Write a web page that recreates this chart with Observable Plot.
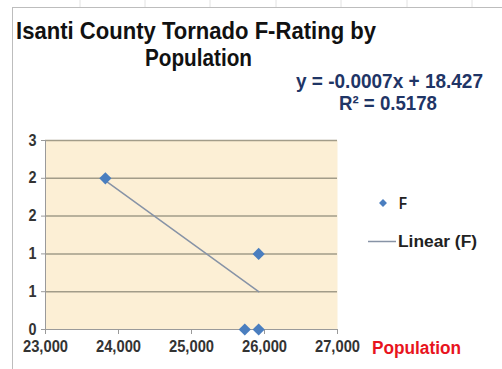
<!DOCTYPE html>
<html>
<head>
<meta charset="utf-8">
<script src="https://cdn.jsdelivr.net/npm/d3@7"></script>
<script src="https://cdn.jsdelivr.net/npm/@observablehq/plot@0.6"></script>
<style>
  html, body { margin: 0; padding: 0; background: #fff; }
  #wrap { position: relative; width: 502px; height: 369px; overflow: hidden; }
  #wrap svg { position: absolute; left: 0; top: 0; }
  .t { font-family: "Liberation Sans", Arial, sans-serif; font-weight: bold; }
</style>
</head>
<body>
<div id="wrap"></div>
<script>
// ---- data ----
const population = [23820, 25730, 25920, 25920];
const fRating = [2, 0, 0, 1];
const trendPopulation = [23820, 25920];
const trendRating = [1.97, 0.5];
const xTicks = [23000, 24000, 25000, 26000, 27000];
const yTicks = [0, 0.5, 1, 1.5, 2, 2.5];
const yTickLabels = ["0", "1", "1", "2", "2", "3"];
const titleLines = ["Isanti County Tornado F-Rating by", "Population"];
const equationLines = ["y = -0.0007x + 18.427", "R\u00B2 = 0.5178"];
const legendLabels = ["F", "Linear (F)"];
const xAxisTitle = "Population";

const points = population.map((x, i) => ({x, y: fRating[i]}));
const trend = trendPopulation.map((x, i) => ({x, y: trendRating[i]}));
const yLabel = new Map(yTicks.map((t, i) => [t, yTickLabels[i]]));

const chart = Plot.plot({
  width: 502,
  height: 369,
  marginLeft: 45,
  marginRight: 165,
  marginTop: 140,
  marginBottom: 40,
  style: {fontFamily: "'Liberation Sans', Arial, sans-serif", fontSize: "14px", fontWeight: "bold", color: "#333", background: "transparent"},
  x: {domain: [23000, 27000]},
  y: {domain: [0, 2.5]},
  marks: [
    Plot.frame({fill: "#fcefd5", stroke: null}),
    Plot.ruleY(yTicks.slice(1), {stroke: "#a29c89", strokeWidth: 1.5}),
    Plot.ruleX([23000], {stroke: "#9a9a9a", strokeWidth: 1}),
    Plot.ruleY([0], {stroke: "#9a9a9a", strokeWidth: 1}),
    Plot.axisY({ticks: yTicks, tickFormat: d => yLabel.get(d), tickSize: 4, tickPadding: 5, stroke: "#9a9a9a", fill: "#333", label: null}),
    Plot.axisX({ticks: xTicks, tickFormat: d3.format(","), tickSize: 5, tickPadding: 6, stroke: "#9a9a9a", fill: "#333", label: null}),
    Plot.line(trend, {x: "x", y: "y", stroke: "#8793a6", strokeWidth: 1.5}),
    Plot.dot(points, {x: "x", y: "y", symbol: "diamond2", r: 5.5, fill: "#4a7ebf", stroke: null})
  ]
});
document.getElementById("wrap").appendChild(chart);

// condensed, taller tick labels like the reference
d3.select(chart).selectAll("g[aria-label='x-axis tick label'] text")
  .attr("font-size", 16).attr("textLength", 45).attr("lengthAdjust", "spacingAndGlyphs");
d3.select(chart).selectAll("g[aria-label='y-axis tick label'] text")
  .attr("font-size", 16).attr("textLength", 8).attr("lengthAdjust", "spacingAndGlyphs");

// ---- overlay: frame, titles, legend ----
const svg = d3.select("#wrap").append("svg")
  .attr("width", 502).attr("height", 369)
  .style("pointer-events", "none");

// spreadsheet cell lines above the chart object
[80, 145, 210, 276, 341, 407, 472].forEach(x =>
  svg.append("line").attr("x1", x).attr("x2", x).attr("y1", 0).attr("y2", 7)
     .attr("stroke", "#e2e2e2"));
svg.append("line").attr("x1", 12).attr("x2", 502).attr("y1", 7.5).attr("y2", 7.5).attr("stroke", "#bdbdbd");
svg.append("line").attr("x1", 12.5).attr("x2", 12.5).attr("y1", 7).attr("y2", 369).attr("stroke", "#bdbdbd");

function txt(s, x, y, size, len, fill, anchor) {
  const t = svg.append("text").attr("class", "t").attr("x", x).attr("y", y)
    .attr("font-size", size).attr("fill", fill).text(s);
  if (anchor) t.attr("text-anchor", anchor);
  if (len) t.attr("textLength", len).attr("lengthAdjust", "spacingAndGlyphs");
  return t;
}
txt(titleLines[0], 16, 39, 24, 360, "#111");
txt(titleLines[1], 145, 66, 24, 107, "#111");
txt(equationLines[0], 296, 88, 20, 187, "#1f3566");
txt(equationLines[1], 339, 110, 20, 98, "#1f3566");

// legend
svg.append("path").attr("d", d3.symbol(d3.symbolDiamond2, 40)())
  .attr("transform", "translate(383,203)").attr("fill", "#4a7ebf");
txt(legendLabels[0], 399, 209, 16, 8, "#222");
svg.append("line").attr("x1", 368).attr("x2", 396).attr("y1", 241.5).attr("y2", 241.5)
  .attr("stroke", "#8793a6").attr("stroke-width", 1.5);
txt(legendLabels[1], 398, 247, 16, 79, "#222");

// x axis title
txt(xAxisTitle, 372, 354, 18, 89, "#e8141e");
</script>
</body>
</html>
